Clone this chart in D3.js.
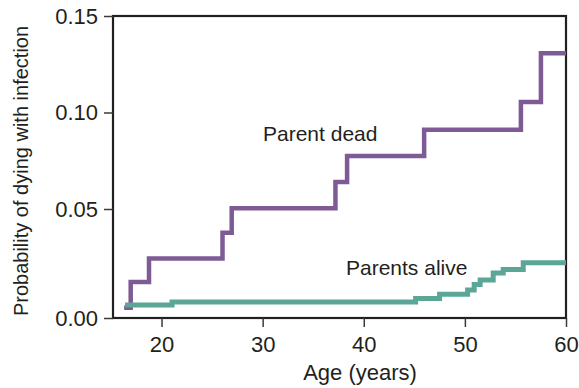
<!DOCTYPE html>
<html>
<head>
<meta charset="utf-8">
<script src="https://cdn.jsdelivr.net/npm/d3@7"></script>
<style>
  body { margin: 0; background: #fff; }
  text { font-family: "Liberation Sans", Arial, sans-serif; fill: #231f20; }
</style>
</head>
<body>
<div id="chart"></div>
<script>
// ---- data ----
var deadAges   = [16.3, 16.95, 18.76, 26.03, 26.94, 37.2, 38.35, 45.97, 55.54, 57.52, 60];
var deadProb   = [0.0047, 0.0165, 0.0273, 0.0391, 0.0504, 0.064, 0.0775, 0.0911, 0.1054, 0.1307, 0.1307];

var aliveAges  = [16.39, 21.04, 45.13, 47.5, 50.27, 50.92, 51.51, 52.8, 53.79, 55.77, 60];
var aliveProb  = [0.006, 0.0073, 0.009, 0.0109, 0.0128, 0.0154, 0.0174, 0.0206, 0.0223, 0.0254, 0.0254];

var xTicks = [20, 30, 40, 50, 60];
var yTicks = [0, 0.05, 0.10, 0.15];

var width = 579, height = 388;
var margin = {top: 16, right: 13, bottom: 70, left: 113};

var svg = d3.select("#chart").append("svg")
  .attr("width", width)
  .attr("height", height);

var x = d3.scaleLinear()
  .domain([15.2, 60])
  .range([margin.left, width - margin.right]);

// the original axis is not quite evenly spaced, so use a piecewise scale
var y = d3.scaleLinear()
  .domain([0, 0.05, 0.10, 0.15])
  .range([318, 209, 112.5, 16]);

// frame
svg.append("rect")
  .attr("x", margin.left)
  .attr("y", margin.top)
  .attr("width", x(60) - margin.left)
  .attr("height", 318 - margin.top)
  .attr("fill", "none")
  .attr("stroke", "#231f20")
  .attr("stroke-width", 2.2);

// axes
var xAxis = svg.append("g")
  .attr("transform", "translate(0,318)")
  .call(d3.axisBottom(x).tickValues(xTicks).tickSize(9).tickPadding(9).tickFormat(d3.format("d")));

var yAxis = svg.append("g")
  .attr("transform", "translate(" + margin.left + ",0)")
  .call(d3.axisLeft(y).tickValues(yTicks).tickSize(9).tickPadding(6).tickFormat(d3.format(".2f")));

[xAxis, yAxis].forEach(function(a) {
  a.select(".domain").remove();
  a.selectAll(".tick line").attr("stroke", "#3a3a3a").attr("stroke-width", 1.5);
  a.selectAll(".tick text")
    .style("font-family", "'Liberation Sans', Arial, sans-serif")
    .style("font-size", "22px")
    .attr("fill", "#231f20");
});

// step curves
var line = d3.line()
  .x(function(d) { return x(d[0]); })
  .y(function(d) { return y(d[1]); })
  .curve(d3.curveStepAfter);

svg.append("path")
  .datum(d3.zip(deadAges, deadProb))
  .attr("d", line)
  .attr("fill", "none")
  .attr("stroke", "#7e5b95")
  .attr("stroke-width", 4.5);

svg.append("path")
  .datum(d3.zip(aliveAges, aliveProb))
  .attr("d", line)
  .attr("fill", "none")
  .attr("stroke", "#5ba696")
  .attr("stroke-width", 5);

// series labels
svg.append("text")
  .attr("x", 263)
  .attr("y", 141)
  .style("font-size", "21px")
  .text("Parent dead");

svg.append("text")
  .attr("x", 346)
  .attr("y", 275)
  .style("font-size", "21px")
  .text("Parents alive");

// axis titles
svg.append("text")
  .attr("x", 360)
  .attr("y", 380)
  .attr("text-anchor", "middle")
  .style("font-size", "22px")
  .text("Age (years)");

svg.append("text")
  .attr("transform", "translate(28,171) rotate(-90)")
  .attr("text-anchor", "middle")
  .style("font-size", "20px")
  .text("Probability of dying with infection");
</script>
</body>
</html>
